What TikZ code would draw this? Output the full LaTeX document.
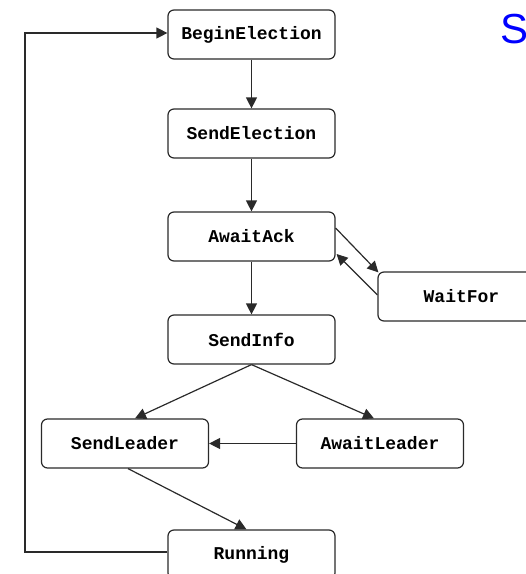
\documentclass[tikz,border=0pt]{standalone}
\usepackage{fontspec}
\setmainfont{Liberation Sans}
\setmonofont{Liberation Mono}
\usetikzlibrary{positioning,arrows.meta,calc}
\definecolor{lineGray}{HTML}{2A2A2A}
\definecolor{pureBlue}{HTML}{0000FF}

\begin{document}
\begin{tikzpicture}[
        x=1pt, y=-1pt,
        stateBox/.style={draw=lineGray, rounded corners=6pt, line width=1.2pt, minimum width=167pt, minimum height=49pt, inner sep=0pt, font=\ttfamily\bfseries\fontsize{18}{20}\selectfont},
        arrowStyle/.style={-{Triangle[length=11pt,width=11pt]}, line width=1.2pt, draw=lineGray}
    ]
        \useasboundingbox (0,0) rectangle (526,574);
        \clip (0,0) rectangle (526,574);

        % States
        \node[stateBox] (begin) at (251.5, 34.5) {BeginElection};
        \node[stateBox] (sendElec) at (251.5, 133.5) {SendElection};
        \node[stateBox] (awaitAck) at (251.5, 236.5) {AwaitAck};
        \node[stateBox] (waitFor) at (461.5, 296.5) {WaitFor};
        \node[stateBox] (sendInfo) at (251.5, 339.5) {SendInfo};
        \node[stateBox] (sendLeader) at (125, 443.5) {SendLeader};
        \node[stateBox] (awaitLeader) at (380, 443.5) {AwaitLeader};
        \node[stateBox] (running) at (251.5, 554.5) {Running};

        % Partial title
        \node[anchor=north west, inner sep=0pt, text=pureBlue, font=\fontsize{42}{48}\selectfont] (title) at (500, 14) {S};

        % Transitions
        \draw[arrowStyle] (begin) -- (sendElec);
        \draw[arrowStyle] (sendElec) -- (awaitAck);
        \draw[arrowStyle] (awaitAck) -- (sendInfo);
        \draw[arrowStyle] ($(awaitAck.east)+(0,-8.5)$) -- ($(waitFor.north west)+(1,1)$);
        \draw[arrowStyle] ($(waitFor.west)+(0,-1.5)$) -- ($(awaitAck.east)+(1,17.5)$);
        \draw[arrowStyle] (sendInfo.south) -- ($(sendLeader.north)+(10,0)$);
        \draw[arrowStyle] (sendInfo.south) -- ($(awaitLeader.north)+(-6,0)$);
        \draw[arrowStyle] (awaitLeader) -- (sendLeader);
        \draw[arrowStyle] ($(sendLeader.south)+(3,0)$) -- ($(running.north)+(-5,0)$);

        % Loop back
        \coordinate (loopTop) at (25, 33);
        \draw[arrowStyle] ($(running.west)+(0,-2.5)$) -| (loopTop) -- ($(begin.west)+(0,-1.5)$);
    \end{tikzpicture}
\end{document}
